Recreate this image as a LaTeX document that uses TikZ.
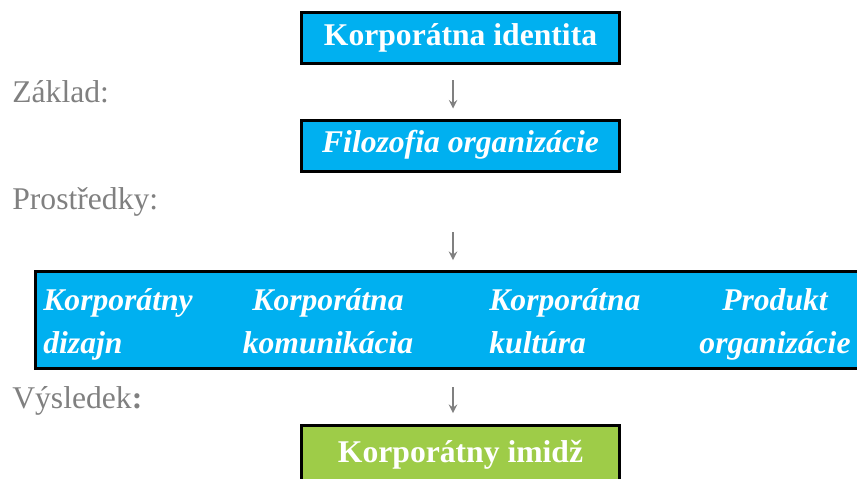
\documentclass[tikz,border=0pt]{standalone}
\usepackage{fontspec}
\setmainfont{Liberation Serif}
\usetikzlibrary{arrows}
\definecolor{boxblue}{RGB}{0,176,240}
\definecolor{boxgreen}{RGB}{158,204,72}
\definecolor{labgray}{RGB}{128,128,128}

\begin{document}
\begin{tikzpicture}[x=0.02cm, y=-0.02cm,
  box/.style={draw=black, line width=0.06cm, fill=boxblue, text=white,
    font=\fontsize{18}{24.4}\selectfont\bfseries, minimum width=6.36cm,
    minimum height=1.02cm, text height=0.9em, text depth=0.1em, inner sep=0},
  item/.style={inner sep=0, text=white, font=\fontsize{18}{24.4}\selectfont\bfseries\itshape},
  lab/.style={inner sep=0, anchor=base west, text=labgray, font=\fontsize{18}{24.4}\selectfont},
  arr/.style={->, >=stealth, draw=labgray, line width=0.04cm}]
\path[use as bounding box, clip] (0,0) rectangle (857,478);

\node[box] (KI) at (460.5,38) {Korporátna identita};
\node[box, font=\fontsize{18}{24.4}\selectfont\bfseries\itshape] (FO) at (460.5,145.5) {Filozofia organizácie};
\node[box, minimum width=16.69cm, minimum height=1.94cm] (M) at (452.75,320) {};
\node[box, fill=boxgreen, minimum height=1.2cm] (KIm) at (460.5,455.5) {Korporátny imidž};

\node[item, align=left, anchor=base west] (KD) at (43,353) {Korporátny\\dizajn};
\node[item, align=center, anchor=base] (KK) at (328,353) {Korporátna\\komunikácia};
\node[item, align=left, anchor=base west] (KKu) at (489,353) {Korporátna\\kultúra};
\node[item, align=center, anchor=base] (PO) at (775,353) {Produkt\\organizácie};

\node[lab] (Z) at (12,102) {Základ:};
\node[lab] (P) at (12,209) {Prostředky:};
\node[lab] (V) at (12,408) {Výsledek\textbf{:}};

\coordinate (ax) at (453,0);
\path[]
(KI.south -| ax) edge[arr, shorten <=0.3cm, shorten >=0.2cm] (FO.north -| ax)
(FO.south -| ax) edge[arr, shorten <=1.2cm, shorten >=0.2cm] (M.north -| ax)
(M.south -| ax) edge[arr, shorten <=0.34cm, shorten >=0.22cm] (KIm.north -| ax)
;
\end{tikzpicture}
\end{document}
